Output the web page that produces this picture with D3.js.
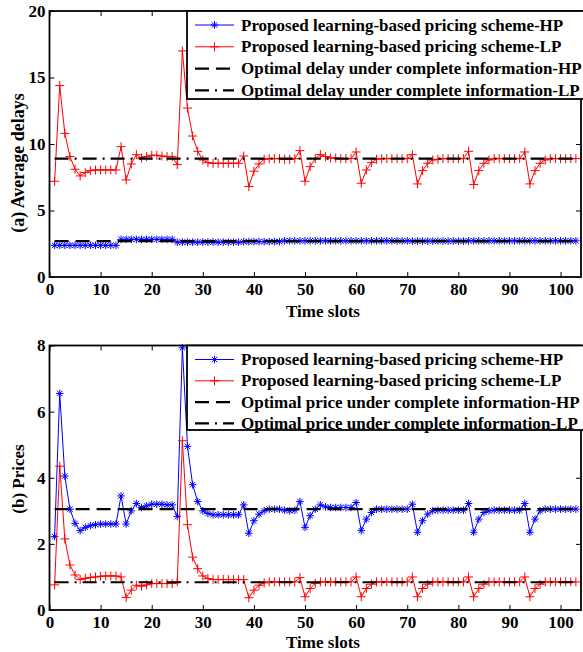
<!DOCTYPE html>
<html>
<head>
<meta charset="utf-8">
<script src="https://cdn.jsdelivr.net/npm/d3@7"></script>
<style>
  body { margin: 0; background: #fff; }
  svg text { font-family: "Liberation Serif", "Times New Roman", serif; font-weight: bold; fill: #000; }
</style>
</head>
<body>
<svg id="chart" width="583" height="652"></svg>
<script>
// time slots 1..103
var slots = d3.range(1, 104);

var xTicks = [0, 10, 20, 30, 40, 50, 60, 70, 80, 90, 100];
var delayTicks = [0, 5, 10, 15, 20];
var priceTicks = [0, 2, 4, 6, 8];

// (a) average delays
var delayHP = [2.38,2.38,2.38,2.38,2.38,2.38,2.38,2.38,2.38,2.38,2.38,2.38,2.38,
  2.83,2.83,2.83,2.83,2.83,2.83,2.83,2.83,2.83,2.83,2.83,
  2.62,2.62,2.62,2.62,2.62,2.62,2.62,2.62,2.62,2.62,2.62,2.62,2.62,
  2.65,2.66,2.66,2.66,2.66,2.66,2.66,2.66,
  2.72,2.72,2.72,2.72,2.72,2.72,2.72,2.72,2.72,2.72,2.72,2.72,2.72,2.72,2.72,2.72,2.72,2.72,2.72,2.72,2.72,2.72,2.72,2.72,2.72,
  2.7,2.7,2.7,2.7,2.7,2.7,2.7,2.7,2.7,2.7,2.7,
  2.72,2.72,2.72,2.72,2.72,2.72,2.72,2.72,2.72,2.72,2.72,2.72,2.72,2.72,2.72,2.72,2.72,2.72,2.72,2.72,2.72,2.72];
var delayLP = [7.2,14.4,10.8,9.05,8.1,7.6,7.85,8.0,8.05,8.05,8.05,8.05,8.05,
  9.8,7.3,8.5,9.2,8.95,9.05,9.15,9.15,9.1,9.05,9.05,8.45,
  17.0,12.7,10.6,9.45,8.8,8.6,8.55,8.55,8.55,8.55,8.55,8.55,
  9.1,6.8,7.95,8.5,8.85,8.9,8.9,8.9,8.85,8.85,8.9,
  9.5,7.2,8.3,8.9,9.2,9.05,8.95,8.95,8.9,8.9,8.9,
  9.4,7.05,8.05,8.6,8.85,8.9,8.9,8.9,8.9,8.9,8.9,
  9.2,7.0,8.0,8.55,8.8,8.85,8.9,8.9,8.9,8.9,8.9,
  9.45,6.95,8.0,8.55,8.8,8.9,8.9,8.9,8.9,8.9,8.9,
  9.4,7.0,8.0,8.55,8.8,8.9,8.9,8.9,8.9,8.9,8.9];
var optDelayHP = 2.7;
var optDelayLP = 8.9;

// (b) prices
var priceHP = [2.22,6.55,4.05,3.05,2.62,2.4,2.5,2.55,2.58,2.6,2.6,2.6,2.6,
  3.45,2.6,3.0,3.22,3.1,3.15,3.2,3.2,3.2,3.18,3.18,2.83,
  7.93,4.95,3.79,3.28,3.0,2.92,2.88,2.88,2.88,2.88,2.88,2.88,
  3.18,2.32,2.7,2.9,3.0,3.05,3.05,3.05,3.02,3.0,3.02,
  3.28,2.5,2.85,3.05,3.18,3.12,3.1,3.1,3.1,3.1,3.1,
  3.25,2.4,2.75,2.95,3.05,3.05,3.05,3.05,3.05,3.05,3.05,
  3.2,2.35,2.7,2.9,3.0,3.02,3.02,3.02,3.02,3.02,3.02,
  3.22,2.35,2.75,2.95,3.0,3.02,3.02,3.02,3.02,3.02,3.02,
  3.22,2.35,2.75,3.0,3.05,3.05,3.05,3.05,3.05,3.05,3.05];
var priceLP = [0.76,4.35,2.15,1.36,1.06,0.92,0.96,0.98,1.0,1.02,1.03,1.03,1.03,
  1.0,0.38,0.6,0.75,0.72,0.76,0.8,0.8,0.8,0.8,0.8,0.85,
  5.12,2.58,1.6,1.25,1.03,0.95,0.92,0.92,0.92,0.92,0.92,0.92,
  0.92,0.37,0.6,0.75,0.82,0.85,0.85,0.85,0.85,0.85,0.85,
  0.98,0.4,0.65,0.8,0.85,0.85,0.85,0.85,0.85,0.85,0.85,
  1.0,0.4,0.65,0.78,0.85,0.85,0.85,0.85,0.85,0.85,0.85,
  1.0,0.4,0.65,0.78,0.85,0.85,0.85,0.85,0.85,0.85,0.85,
  1.0,0.4,0.65,0.78,0.85,0.85,0.85,0.85,0.85,0.85,0.85,
  1.0,0.4,0.65,0.78,0.85,0.85,0.85,0.85,0.85,0.85,0.85];
var optPriceHP = 3.05;
var optPriceLP = 0.84;

var legendDelay = ["Proposed learning-based pricing scheme-HP",
  "Proposed learning-based pricing scheme-LP",
  "Optimal delay under complete information-HP",
  "Optimal delay under complete information-LP"];
var legendPrice = ["Proposed learning-based pricing scheme-HP",
  "Proposed learning-based pricing scheme-LP",
  "Optimal price under complete information-HP",
  "Optimal price under complete information-LP"];

var svg = d3.select("#chart");
var left = 49.5, right = 581;
var BLUE = "#0000ff", RED = "#ff0000";
var DASH = "14,7", DASHDOT = "14,6,2,6";

function starPath(s) {
  var a = s * 0.72;
  return "M" + (-s) + ",0H" + s + "M0," + (-s) + "V" + s +
    "M" + (-a) + "," + (-a) + "L" + a + "," + a + "M" + (-a) + "," + a + "L" + a + "," + (-a);
}
function plusPath(s) {
  return "M" + (-s) + ",0H" + s + "M0," + (-s) + "V" + s;
}

function drawPanel(cfg) {
  var x = d3.scaleLinear().domain([0, 104]).range([left, right]);
  var y = d3.scaleLinear().domain(cfg.yDomain).range([cfg.bottom, cfg.top]);
  var g = svg.append("g");

  var line = d3.line()
    .x(function (d, i) { return x(slots[i]); })
    .y(function (d) { return y(d); });

  var series = [
    {values: cfg.hp, color: BLUE, marker: starPath(3.8)},
    {values: cfg.lp, color: RED, marker: plusPath(4.5)}
  ];
  series.forEach(function (s) {
    g.append("path")
      .attr("d", line(s.values))
      .attr("fill", "none")
      .attr("stroke", s.color)
      .attr("stroke-width", 1);
    g.selectAll(null).data(s.values).enter().append("path")
      .attr("transform", function (d, i) { return "translate(" + x(slots[i]) + "," + y(d) + ")"; })
      .attr("d", s.marker)
      .attr("fill", "none")
      .attr("stroke", s.color)
      .attr("stroke-width", 1);
  });

  // optimal reference lines
  [{v: cfg.optHP, dash: DASH}, {v: cfg.optLP, dash: DASHDOT}].forEach(function (o) {
    g.append("line")
      .attr("x1", x(slots[0])).attr("x2", x(slots[slots.length - 1]))
      .attr("y1", y(o.v)).attr("y2", y(o.v))
      .attr("stroke", "#000")
      .attr("stroke-width", 2.2)
      .attr("stroke-dasharray", o.dash);
  });

  // axes, ticks pointing inward on all sides
  g.append("g")
    .attr("transform", "translate(0," + cfg.bottom + ")")
    .call(d3.axisBottom(x).tickValues(xTicks).tickSizeInner(-5).tickSizeOuter(0).tickPadding(6));
  g.append("g")
    .attr("transform", "translate(0," + cfg.top + ")")
    .call(d3.axisTop(x).tickValues(xTicks).tickSizeInner(-5).tickSizeOuter(0).tickFormat(""));
  g.append("g")
    .attr("transform", "translate(" + left + ",0)")
    .call(d3.axisLeft(y).tickValues(cfg.yTicks).tickSizeInner(-5).tickSizeOuter(0).tickPadding(4));
  g.append("g")
    .attr("transform", "translate(" + right + ",0)")
    .call(d3.axisRight(y).tickValues(cfg.yTicks).tickSizeInner(-5).tickSizeOuter(0).tickFormat(""));
  g.selectAll(".domain").remove();
  g.selectAll(".tick line").attr("stroke", "#000").attr("stroke-width", 1);
  g.selectAll(".tick text")
    .style("font-size", "17px")
    .style("font-family", "'Liberation Serif', serif")
    .style("font-weight", "bold")
    .style("fill", "#000");

  g.append("rect")
    .attr("x", left).attr("y", cfg.top)
    .attr("width", right - left).attr("height", cfg.bottom - cfg.top)
    .attr("fill", "none").attr("stroke", "#000").attr("stroke-width", 1.8);

  // legend
  var lg = g.append("g");
  lg.append("rect")
    .attr("x", 187).attr("y", cfg.top)
    .attr("width", 420).attr("height", cfg.legendBottom - cfg.top)
    .attr("fill", "#fff").attr("stroke", "#000").attr("stroke-width", 1.8);
  var styles = [
    {color: BLUE, w: 1, dash: null, marker: starPath(3.8)},
    {color: RED, w: 1, dash: null, marker: plusPath(4.5)},
    {color: "#000", w: 2.2, dash: DASH, marker: null},
    {color: "#000", w: 2.2, dash: DASHDOT, marker: null}
  ];
  cfg.legend.forEach(function (label, i) {
    var yy = cfg.legendY0 + i * cfg.legendStep;
    var st = styles[i];
    lg.append("line")
      .attr("x1", 195).attr("x2", 234).attr("y1", yy).attr("y2", yy)
      .attr("stroke", st.color).attr("stroke-width", st.w)
      .attr("stroke-dasharray", st.dash);
    if (st.marker) {
      lg.append("path")
        .attr("transform", "translate(214.5," + yy + ")")
        .attr("d", st.marker)
        .attr("fill", "none").attr("stroke", st.color).attr("stroke-width", 1);
    }
    lg.append("text")
      .attr("x", 241).attr("y", yy + 5.5)
      .style("font-size", "17px")
      .text(label);
  });

  // axis titles
  g.append("text")
    .attr("x", 323).attr("y", cfg.xLabelY)
    .attr("text-anchor", "middle")
    .style("font-size", "17px")
    .text("Time slots");
  g.append("text")
    .attr("transform", "translate(18," + cfg.yLabelY + ") rotate(-90)")
    .attr("text-anchor", "middle")
    .attr("dominant-baseline", "central")
    .style("font-size", cfg.yLabelSize)
    .text(cfg.yLabel);
}

drawPanel({
  top: 11, bottom: 277, yDomain: [0, 20], yTicks: delayTicks,
  hp: delayHP, lp: delayLP, optHP: optDelayHP, optLP: optDelayLP,
  legend: legendDelay, legendBottom: 99, legendY0: 25, legendStep: 21.8,
  xLabelY: 316.5, yLabel: "(a) Average delays", yLabelY: 163, yLabelSize: "18px"
});
drawPanel({
  top: 345.5, bottom: 610, yDomain: [0, 8], yTicks: priceTicks,
  hp: priceHP, lp: priceLP, optHP: optPriceHP, optLP: optPriceLP,
  legend: legendPrice, legendBottom: 430, legendY0: 359.5, legendStep: 21.3,
  xLabelY: 648, yLabel: "(b) Prices", yLabelY: 479, yLabelSize: "17px"
});
</script>
</body>
</html>
